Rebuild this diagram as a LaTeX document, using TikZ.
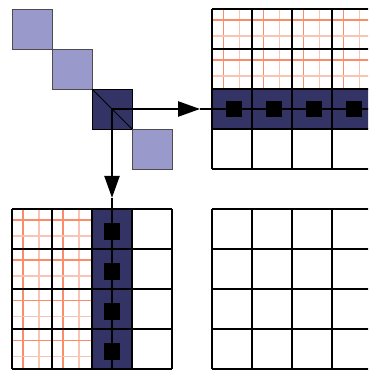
\documentclass[tikz,border=0pt]{standalone}
\usepackage{tikz}
\usetikzlibrary{arrows.meta, positioning, calc}
\definecolor{lightblk}{RGB}{153,153,204}
\definecolor{darkblk}{RGB}{51,51,102}
\definecolor{subline}{RGB}{250,140,105}
\definecolor{subfaint}{RGB}{250,195,180}
\tikzstyle{lightsq}  = [rectangle, draw=black!70, line width=0.6pt, fill=lightblk,
                        minimum size=1cm, inner sep=0pt, outer sep=0pt]
\tikzstyle{darksq}   = [rectangle, draw=black, line width=0.6pt, fill=darkblk,
                        minimum size=1cm, inner sep=0pt, outer sep=0pt]
\tikzstyle{panel}    = [rectangle, fill=darkblk, inner sep=0pt, outer sep=0pt]
\tikzstyle{dot}      = [rectangle, fill=black, minimum size=0.42cm, inner sep=0pt]
\tikzstyle{cellgrid} = [line width=1.3pt, black]
\tikzstyle{fine}     = [line width=1.0pt, subline]
\tikzstyle{faint}    = [line width=1.0pt, subfaint]
\tikzstyle{arr}      = [-{Triangle[length=5.5mm, width=3.8mm]}, line width=1.4pt]
\tikzstyle{through}  = [line width=0.8pt]

\begin{document}
\begin{tikzpicture}
    \clip (0,0) rectangle (9.2,-9.275);
    \fill[white] (0,0) rectangle (9.2,-9.275);

    % diagonal blocks
    \node[lightsq, anchor=north west] (d1) at (0.3,-0.225) {};
    \node[lightsq, below right=0cm and 0cm of d1] (d2) {};
    \node[darksq, below right=0cm and 0cm of d2] (d3) {};
    \node[lightsq, below right=0cm and 0cm of d3] (d4) {};
    \draw[line width=0.6pt] (d3.north west) -- (d3.south east);

    % top right panel
    \begin{scope}[shift={(5.3,-0.225)}]
        \foreach \i in {0,...,3} {
            \draw[fine] (\i+0.28,0) -- (\i+0.28,-2);
            \draw[faint] (\i+0.68,0) -- (\i+0.68,-2);
        }
        \foreach \j in {0,1} {
            \draw[fine] (0,-\j-0.28) -- (4,-\j-0.28);
            \draw[faint] (0,-\j-0.68) -- (4,-\j-0.68);
        }
        \node[panel, minimum width=4cm, minimum height=1cm, anchor=north west] (row) at (0,-2) {};
        \draw[cellgrid] (0,0) grid (4,-4);
    \end{scope}

    % bottom left panel
    \begin{scope}[shift={(0.3,-5.225)}]
        \foreach \i in {0,1} {
            \draw[fine] (\i+0.28,0) -- (\i+0.28,-4);
            \draw[faint] (\i+0.68,0) -- (\i+0.68,-4);
        }
        \foreach \j in {0,...,3} {
            \draw[fine] (0,-\j-0.28) -- (2,-\j-0.28);
            \draw[faint] (0,-\j-0.68) -- (2,-\j-0.68);
        }
        \node[panel, minimum width=1cm, minimum height=4cm, anchor=north west] (col) at (2,0) {};
        \draw[cellgrid] (0,0) grid (4,-4);
    \end{scope}

    % bottom right panel
    \begin{scope}[shift={(5.3,-5.225)}]
        \draw[cellgrid] (0,0) grid (4,-4);
    \end{scope}

    \coordinate[left=0.3cm of row.west] (htip);
    \coordinate[above=0.28cm of col.north] (vtip);
    \draw[through] (htip) -- (row.east);
    \draw[through] (vtip) -- (col.south);
    \draw[arr] (d3.center) -- (htip);
    \draw[arr] (d3.center) -- (vtip);

    \foreach \k in {0,...,3} {
        \node[dot] (hd\k) at ($(row.west)+(\k+0.55,0)$) {};
        \node[dot] (vd\k) at ($(col.north)+(0,-\k-0.57)$) {};
    }
\end{tikzpicture}
\end{document}
